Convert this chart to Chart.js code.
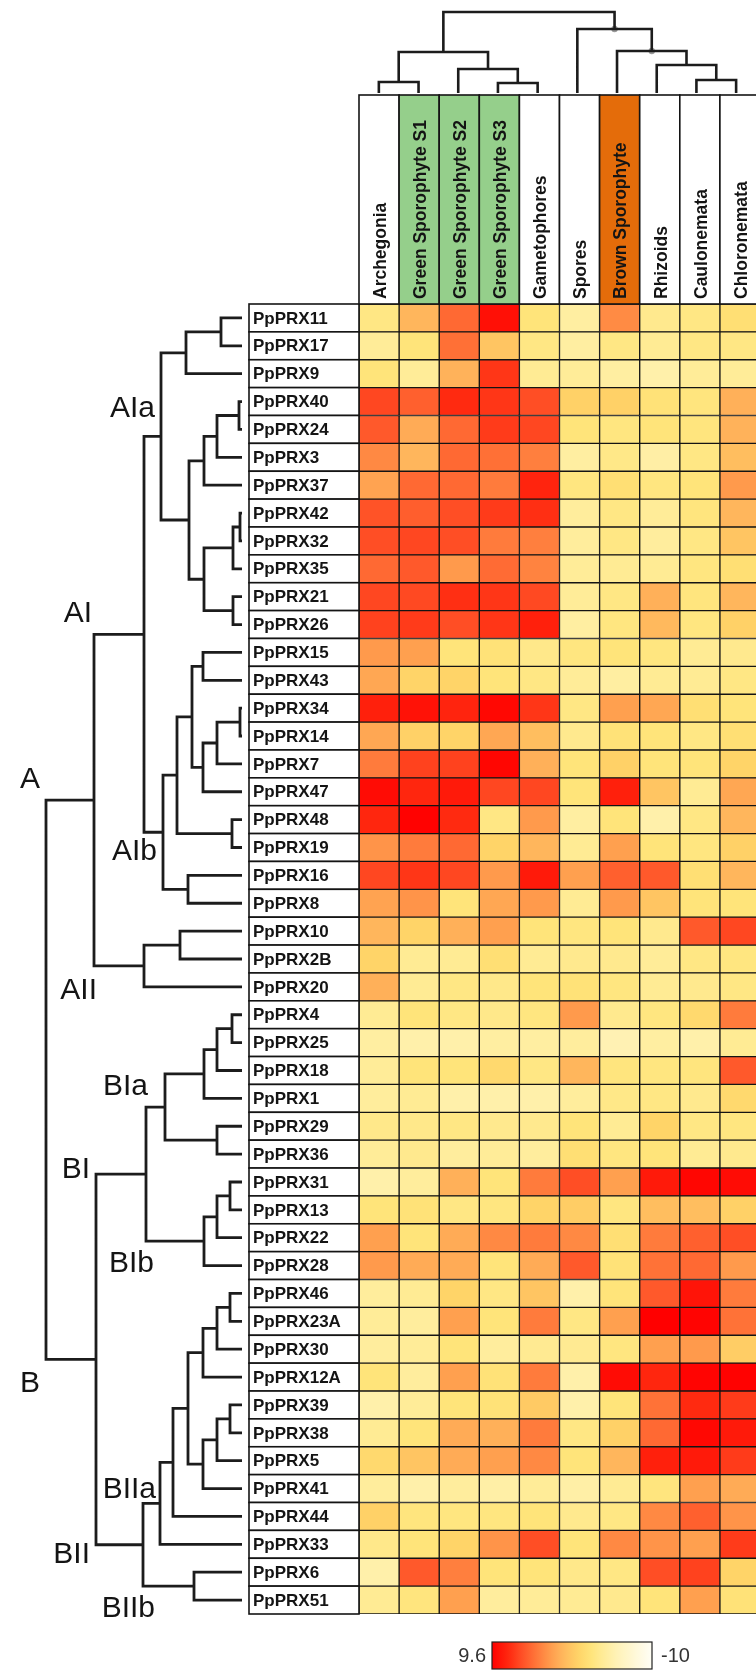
<!DOCTYPE html>
<html>
<head>
<meta charset="utf-8">
<title>PpPRX expression heatmap</title>
<script src="https://cdn.jsdelivr.net/npm/chart.js@4.4.1/dist/chart.umd.min.js"></script>
<style>
  html, body { margin: 0; padding: 0; background: #fff; overflow: hidden; }
  #wrap { position: relative; width: 756px; height: 1671px; }
  #wrap canvas { position: absolute; left: 0; top: 0; }
</style>
</head>
<body>
<div id="wrap">
  <canvas id="heat" width="756" height="1671"></canvas>
  <canvas id="rowTree" width="756" height="1671"></canvas>
  <canvas id="colTree" width="756" height="1671"></canvas>
</div>
<script>
// ---- data ----
const tissues = ['Archegonia', 'Green Sporophyte S1', 'Green Sporophyte S2', 'Green Sporophyte S3', 'Gametophores',
  'Spores', 'Brown Sporophyte', 'Rhizoids', 'Caulonemata', 'Chloronemata'];

const genes = ['PpPRX11', 'PpPRX17', 'PpPRX9', 'PpPRX40', 'PpPRX24', 'PpPRX3', 'PpPRX37', 'PpPRX42', 'PpPRX32',
  'PpPRX35', 'PpPRX21', 'PpPRX26', 'PpPRX15', 'PpPRX43', 'PpPRX34', 'PpPRX14', 'PpPRX7', 'PpPRX47', 'PpPRX48',
  'PpPRX19', 'PpPRX16', 'PpPRX8', 'PpPRX10', 'PpPRX2B', 'PpPRX20', 'PpPRX4', 'PpPRX25', 'PpPRX18', 'PpPRX1',
  'PpPRX29', 'PpPRX36', 'PpPRX31', 'PpPRX13', 'PpPRX22', 'PpPRX28', 'PpPRX46', 'PpPRX23A', 'PpPRX30', 'PpPRX12A',
  'PpPRX39', 'PpPRX38', 'PpPRX5', 'PpPRX41', 'PpPRX44', 'PpPRX33', 'PpPRX6', 'PpPRX51'];

// one array per tissue, in gene order
const archegonia = [-3, -4, -2.5, 6.3, 5.5, 3.3, 2, 5.8, 6, 4.8, 6.3, 6.5, 2.5, 1.8, 8, 1.8, 4, 9, 7.7, 2.8, 6.3, 2,
  1, -1, 1.3, -3.8, -4.5, -4, -4.2, -3.3, -4, -5, -2.5, 2.2, 2.5, -4.2, -4, -4.3, -2.5, -5, -3.8, -1.5, -4.2, -0.8,
  -3.3, -5, -3.8];
const greenS1 = [1, -2.5, -4, 5.2, 1.6, 1, 4.8, 5.3, 6.3, 5.5, 6.2, 6.8, 2.2, -1, 8.7, -0.8, 6.5, 7.7, 9.5, 4, 7, 2.8,
  -1, -3.8, -3.8, -2.5, -5, -2.5, -3.8, -3.3, -3.5, -4.2, -2.3, -2.5, 1.6, -3.8, -4.3, -4, -4.3, -4, -2.5, 0, -5,
  -2.7, -2.5, 5.5, -2.7];
const greenS2 = [4.8, 4.5, 1.2, 7.5, 4.8, 4.8, 4.8, 6, 6, 2.5, 7.3, 6, -2.5, -1, 7.8, -1, 6.5, 8.3, 7.5, 4.8, 6.3, -2.5,
  1.3, -3.8, -3, -3, -5, -2.5, -5, -3, -4.3, 1.3, -3, 1.6, 1.6, -1, 2.2, -2.5, 2.2, -2.5, 1.6, 1.6, -4.3, -2.8, -1,
  3.8, 2.2];
const greenS3 = [8.8, 0, 7, 7, 6.8, 4.5, 4, 6.8, 4, 4.7, 7, 7, -2.3, -2.5, 9.2, 1.8, 9.3, 6.3, -3, -1, 2.5, 1.8, 2.2,
  -2, -3.3, -3.3, -4.5, -1.5, -5, -3.5, -4, -2.5, -2.8, 3.3, -2.5, -3, -2.5, -4.3, -2.3, -2.3, 1.3, 2.2, -4.8, -2.8,
  2.8, -2.5, -4.3];
const gametophores = [-2.5, -3, -3.8, 6, 6.3, 3.8, 7.8, 7.3, 3.8, 3.6, 6.2, 8, -3.3, -3, 7, 0.5, 1.3, 6.3, 2.5, 1, 8.3,
  2.5, -2.5, -3.8, -2.5, -2.8, -4.5, -3, -5, -3.5, -4.3, 4, -1, 4, 1.6, 0, 4, -3.7, 4, -0.3, 4, 3.3, -4, -2.5, 6,
  -2.5, -4];
const spores = [-4.5, -4.5, -4, -0.8, -2.5, -4.5, -2.8, -4.2, -4.2, -4, -4, -4.5, -2.8, -4, -3, -3.5, -2.5, -2.5, -4.5,
  -3.8, 2.2, -3.8, -2.8, -3.5, -2.3, 2.5, -4.3, 1, -4.2, -2.5, -2, 6, -0.5, 3.3, 5.5, -5, -3, -3.7, -5, -5, -3, -2.5,
  -4.8, -3.5, -2.5, -3.3, -3.8];
const brownSporophyte = [3.2, -3, -4.5, -0.8, -2.8, -3.2, -2, -3, -3, -3.8, -3, -2.8, -2.5, -4.5, 2.2, -2.3, -0.8, 8,
  -2.5, 2.2, 5.2, 2.5, -2.5, -3.5, -2.8, -3.5, -5.5, -2.7, -3.2, -3.8, -2.8, 2.2, -2.8, -2, -2.3, -2.5, 2.2, -2.8, 9,
  -2.5, -0.8, 1, -3.8, -3, 3.3, -3, -3.5];
const rhizoids = [-3.5, -3.8, -5, -2.3, -2.5, -4.7, -2.8, -4, -4.3, -3.8, 1.3, 0.8, -2.8, -3.8, 1.8, -2.5, -2.5, 0, -5,
  -2.5, 5.5, 0, -3.5, -4, -3.8, -2.8, -4.5, -2.8, -3, -1, -2.5, 8.3, 0.5, 4, 4.4, 5.5, 9.6, 2.2, 7.7, 4.4, 4.8, 8,
  -2.7, 3.3, 2.8, 6, -2.5];
const caulonemata = [-3, -3, -4, -2.7, -2.7, -3, -2.5, -2.7, -3, -2.8, -2.7, -2.8, -3.8, -3.8, -2, -3, -2.5, -3.8, -3,
  -2.8, -2, -2.5, 5.5, -3, -3.5, -1.5, -5, -2.7, -3.5, -3, -3.8, 9.3, 0.5, 5.2, 4.8, 8.6, 9.4, 2.5, 9.4, 7.5, 9.2,
  8.3, 2.2, 5.2, 2.2, 6.5, 2.2];
const chloronemata = [-2, -3, -4, 1.3, 1.2, 0.5, 2.5, 1, 0, -2, 1, -0.8, -3.5, -3, -2.5, -2, -1, 1.8, 1, -0.8, 1, -2.5,
  6.3, -2.8, -3, 4, -3.8, 5.5, -1.5, -2.8, -3.5, 9, -0.8, 6, 2.5, 4, 4.4, -0.5, 9.5, 6.8, 8.3, 6.8, 1.6, 2.8, 6.8,
  -1, -2.3];

const series = [archegonia, greenS1, greenS2, greenS3, gametophores, spores, brownSporophyte, rhizoids, caulonemata,
  chloronemata];

const scaleMax = 9.6;
const scaleMin = -10;

// gene tree: [child a, child b, height]; leaves are 0..46, merge k makes node 47 + k
const geneLinkage = [
  [0, 1, 21], [47, 2, 56], [3, 4, 3], [49, 5, 25], [50, 6, 38], [7, 8, 2], [52, 9, 9], [10, 11, 9],
  [53, 54, 38], [51, 55, 53], [48, 56, 81], [12, 13, 39], [14, 15, 2], [59, 16, 25], [60, 17, 39],
  [58, 61, 50], [18, 19, 10], [62, 63, 65], [20, 21, 54], [64, 65, 79], [57, 66, 98], [22, 23, 62],
  [68, 24, 98], [67, 69, 148], [25, 26, 10], [71, 27, 25], [72, 28, 38], [29, 30, 25], [73, 74, 77],
  [31, 32, 12], [76, 33, 25], [77, 34, 38], [75, 78, 96], [35, 36, 12], [80, 37, 25], [81, 38, 39],
  [39, 40, 12], [83, 41, 25], [84, 42, 39], [82, 85, 54], [86, 43, 69], [87, 44, 82], [45, 46, 48],
  [88, 89, 99], [79, 90, 146], [70, 91, 196]
];
const geneTreeTop = 196;

// tissue tree: leaves 0..9, merge k makes node 10 + k
const tissueLinkage = [
  [0, 1, 11], [3, 4, 10], [2, 11, 24], [10, 12, 41], [8, 9, 13], [7, 14, 28], [6, 15, 42], [5, 16, 64], [13, 17, 81]
];
const tissueTreeTop = 81;
const tissueMarked = [16, 17];

// cluster names with anchor (tree height, row) at the label's right end / baseline
const clusterNames = ['AIa', 'AI', 'A', 'AIb', 'AII', 'BIa', 'BI', 'BIb', 'B', 'BIIa', 'BII', 'BIIb'];
const clusterAnchorH = [87, 150, 202, 85, 145, 94, 152, 88, 202, 86, 152, 87];
const clusterAnchorRow = [3.55, 10.91, 16.87, 19.45, 24.44, 27.88, 30.86, 34.23, 38.54, 42.34, 44.67, 46.61];

// ---- styles ----
const headerFill = ['#ffffff', '#95cf8b', '#95cf8b', '#95cf8b', '#ffffff', '#ffffff', '#e46c0a', '#ffffff', '#ffffff', '#ffffff'];
const colorStops = [
  [9.6, [255, 0, 0]], [7.5, [255, 42, 16]], [6, [255, 78, 37]], [4.5, [255, 112, 54]], [2.5, [255, 154, 76]],
  [1, [255, 182, 92]], [-1, [255, 212, 104]], [-2.5, [255, 228, 122]], [-4, [255, 236, 152]],
  [-6, [255, 243, 188]], [-10, [255, 254, 246]]
];
const ink = '#141414';
const labelWidth = 110;
const headerTop = 95;

function colorFor(v) {
  for (let i = 0; i < colorStops.length - 1; i++) {
    const [v0, c0] = colorStops[i];
    const [v1, c1] = colorStops[i + 1];
    if (v <= v0 && v >= v1) {
      const t = (v0 - v) / (v0 - v1);
      const c = c0.map((a, k) => Math.round(a + (c1[k] - a) * t));
      return `rgb(${c[0]},${c[1]},${c[2]})`;
    }
  }
  const c = v > colorStops[0][0] ? colorStops[0][1] : colorStops[colorStops.length - 1][1];
  return `rgb(${c[0]},${c[1]},${c[2]})`;
}

function treePoints(linkage, n, horizontal) {
  const pos = [], ht = [];
  for (let i = 0; i < n; i++) { pos[i] = i; ht[i] = 0; }
  linkage.forEach(([a, b, h], k) => { pos[n + k] = (pos[a] + pos[b]) / 2; ht[n + k] = h; });
  const pt = (p, h) => horizontal ? { x: h, y: p } : { x: p, y: h };
  const pts = [];
  linkage.forEach(([a, b, h]) => {
    pts.push(pt(pos[a], ht[a]), pt(pos[a], h), pt(pos[b], h), pt(pos[b], ht[b]), { x: NaN, y: NaN });
  });
  return { pts, pos, ht };
}

// ---- heatmap ----
const frame = {
  id: 'frame',
  afterDatasetsDraw(chart) {
    const { ctx, chartArea: area, scales: { x, y } } = chart;
    ctx.save();
    ctx.strokeStyle = ink;
    ctx.lineWidth = 1.6;

    // gene label boxes
    ctx.font = 'bold 17px "Liberation Sans", Arial, sans-serif';
    ctx.textAlign = 'left';
    ctx.textBaseline = 'middle';
    genes.forEach((g, r) => {
      const top = y.getPixelForValue(r - 0.5), bot = y.getPixelForValue(r + 0.5);
      ctx.fillStyle = '#fff';
      ctx.fillRect(area.left - labelWidth, top, labelWidth, bot - top);
      ctx.strokeRect(area.left - labelWidth, top, labelWidth, bot - top);
      ctx.fillStyle = ink;
      ctx.fillText(g, area.left - labelWidth + 4, (top + bot) / 2 + 1);
    });

    // tissue header boxes
    ctx.font = 'bold 17.5px "Liberation Sans", Arial, sans-serif';
    tissues.forEach((t, c) => {
      const l = x.getPixelForValue(c - 0.5), r = x.getPixelForValue(c + 0.5);
      ctx.fillStyle = headerFill[c];
      ctx.fillRect(l, headerTop, r - l, area.top - headerTop);
      ctx.strokeRect(l, headerTop, r - l, area.top - headerTop);
      ctx.save();
      ctx.translate((l + r) / 2 + 2, area.top - 5);
      ctx.rotate(-Math.PI / 2);
      ctx.fillStyle = ink;
      ctx.textAlign = 'left';
      ctx.textBaseline = 'middle';
      ctx.fillText(t, 0, 0);
      ctx.restore();
    });

    // colour key
    const kx = 492, ky = 1642, kw = 160, kh = 27;
    const grad = ctx.createLinearGradient(kx, 0, kx + kw, 0);
    for (let i = 0; i <= 40; i++) {
      grad.addColorStop(i / 40, colorFor(scaleMax - (i / 40) * (scaleMax - scaleMin)));
    }
    ctx.fillStyle = grad;
    ctx.fillRect(kx, ky, kw, kh);
    ctx.lineWidth = 1.2;
    ctx.strokeStyle = '#222';
    ctx.strokeRect(kx, ky, kw, kh);
    ctx.fillStyle = '#333';
    ctx.font = '20px "Liberation Sans", Arial, sans-serif';
    ctx.textBaseline = 'middle';
    ctx.textAlign = 'right';
    ctx.fillText(String(scaleMax), kx - 6, ky + kh / 2 + 1);
    ctx.textAlign = 'left';
    ctx.fillText(String(scaleMin), kx + kw + 9, ky + kh / 2 + 1);
    ctx.restore();
  }
};

new Chart(document.getElementById('heat'), {
  type: 'bar',
  data: {
    datasets: series.map((vals, c) => ({
      label: tissues[c],
      data: vals.map((v, r) => ({ x: c, y: [r - 0.5, r + 0.5] })),
      backgroundColor: vals.map(colorFor),
      borderColor: ink,
      borderWidth: 1,
      borderSkipped: false,
      grouped: false,
      barPercentage: 1,
      categoryPercentage: 1
    }))
  },
  options: {
    responsive: false,
    animation: false,
    devicePixelRatio: 1,
    events: [],
    layout: { padding: { left: 359, right: 0, top: 304, bottom: 57 } },
    plugins: { legend: { display: false }, tooltip: { enabled: false } },
    scales: {
      x: {
        type: 'linear', min: -0.5, max: 9.4, offset: false, display: false,
        afterBuildTicks: s => { s.ticks = tissues.map((t, i) => ({ value: i })); }
      },
      y: { type: 'linear', min: -0.5, max: genes.length - 0.5, reverse: true, display: false }
    }
  },
  plugins: [frame]
});

// ---- gene dendrogram (left) ----
const geneTree = treePoints(geneLinkage, genes.length, true);
const clusterText = {
  id: 'clusterText',
  afterDatasetsDraw(chart) {
    const { ctx, scales: { x, y } } = chart;
    ctx.save();
    ctx.fillStyle = ink;
    ctx.font = '30px "Liberation Sans", Arial, sans-serif';
    ctx.textAlign = 'right';
    ctx.textBaseline = 'alphabetic';
    clusterNames.forEach((name, i) => {
      ctx.fillText(name, x.getPixelForValue(clusterAnchorH[i]), y.getPixelForValue(clusterAnchorRow[i]));
    });
    ctx.restore();
  }
};

new Chart(document.getElementById('rowTree'), {
  type: 'scatter',
  data: {
    datasets: [{
      data: geneTree.pts,
      showLine: true,
      borderColor: '#1c1c1c',
      borderWidth: 2.8,
      pointRadius: 0,
      spanGaps: false,
      clip: false
    }]
  },
  options: {
    responsive: false,
    animation: false,
    devicePixelRatio: 1,
    events: [],
    layout: { padding: { left: 46, right: 514, top: 304, bottom: 57 } },
    plugins: { legend: { display: false }, tooltip: { enabled: false } },
    scales: {
      x: { type: 'linear', min: 0, max: geneTreeTop, reverse: true, display: false },
      y: { type: 'linear', min: -0.5, max: genes.length - 0.5, reverse: true, display: false }
    }
  },
  plugins: [clusterText]
});

// ---- tissue dendrogram (top) ----
const tissueTree = treePoints(tissueLinkage, tissues.length, false);
new Chart(document.getElementById('colTree'), {
  type: 'scatter',
  data: {
    datasets: [{
      data: tissueTree.pts,
      showLine: true,
      borderColor: '#1c1c1c',
      borderWidth: 2.6,
      pointRadius: 0,
      spanGaps: false,
      clip: false
    }, {
      data: tissueMarked.map(id => ({ x: tissueTree.pos[id], y: tissueTree.ht[id] })),
      showLine: false,
      pointRadius: 3.2,
      pointBackgroundColor: '#9a9a9a',
      pointBorderWidth: 0,
      clip: false
    }]
  },
  options: {
    responsive: false,
    animation: false,
    devicePixelRatio: 1,
    events: [],
    layout: { padding: { left: 359, right: 0, top: 12, bottom: 1578 } },
    plugins: { legend: { display: false }, tooltip: { enabled: false } },
    scales: {
      x: { type: 'linear', min: -0.5, max: 9.4, display: false },
      y: { type: 'linear', min: 0, max: tissueTreeTop, display: false }
    }
  }
});
</script>
</body>
</html>
